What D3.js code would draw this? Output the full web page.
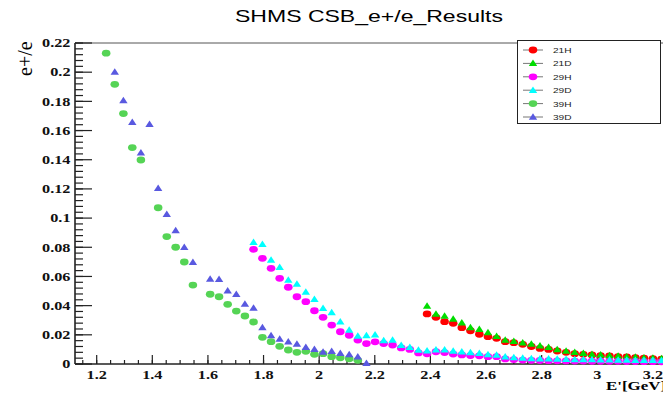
<!DOCTYPE html>
<html>
<head>
<meta charset="utf-8">
<script src="https://cdn.jsdelivr.net/npm/d3@7"></script>
<style>
  body { margin: 0; background: #fff; }
  svg { display: block; }
</style>
</head>
<body>
<svg id="chart"></svg>
<script>
// E' bin centres (GeV), shared by all series
const energy = [
  1.234, 1.265, 1.296, 1.328, 1.359, 1.390, 1.421, 1.452, 1.484, 1.515,
  1.546, 1.577, 1.608, 1.640, 1.671, 1.702, 1.733, 1.764, 1.796, 1.827,
  1.858, 1.889, 1.920, 1.952, 1.983, 2.014, 2.045, 2.076, 2.108, 2.139,
  2.170, 2.201, 2.232, 2.264, 2.295, 2.326, 2.357, 2.388, 2.420, 2.451,
  2.482, 2.513, 2.544, 2.576, 2.607, 2.638, 2.669, 2.700, 2.732, 2.763,
  2.794, 2.825, 2.856, 2.888, 2.919, 2.950, 2.981, 3.012, 3.044, 3.075,
  3.106, 3.137, 3.168, 3.200, 3.231
];

// each series starts at a bin index in energy[]
const ratio21H = [0.0343, 0.0320, 0.0290, 0.0279, 0.0249, 0.0228, 0.0204, 0.0187, 0.0176, 0.0153,
  0.0146, 0.0135, 0.0120, 0.0107, 0.0100, 0.0089, 0.0080, 0.0071, 0.0066, 0.0062,
  0.0057, 0.0055, 0.0050, 0.0048, 0.0043, 0.0040, 0.0037, 0.0034];
const ratio21D = [0.0398, 0.0343, 0.0329, 0.0308, 0.0283, 0.0249, 0.0238, 0.0215, 0.0190, 0.0164,
  0.0156, 0.0146, 0.0137, 0.0125, 0.0114, 0.0099, 0.0089, 0.0080, 0.0073, 0.0067,
  0.0063, 0.0058, 0.0055, 0.0050, 0.0047, 0.0043, 0.0041, 0.0038];
const ratio29H = [0.0786, 0.0724, 0.0656, 0.0587, 0.0526, 0.0461, 0.0427, 0.0365, 0.0320, 0.0267,
  0.0221, 0.0197, 0.0164, 0.0140, 0.0152, 0.0140, 0.0130, 0.0110, 0.0100, 0.0076,
  0.0070, 0.0084, 0.0078, 0.0068, 0.0062, 0.0058, 0.0056, 0.0050, 0.0050, 0.0035,
  0.0030, 0.0027, 0.0025, 0.0024, 0.0023, 0.0022, 0.0021, 0.0020, 0.0020, 0.0019,
  0.0019, 0.0018, 0.0018, 0.0017, 0.0017, 0.0016, 0.0016, 0.0015];
const ratio29D = [0.0834, 0.0820, 0.0713, 0.0663, 0.0576, 0.0548, 0.0493, 0.0443, 0.0382, 0.0352,
  0.0290, 0.0233, 0.0192, 0.0195, 0.0200, 0.0160, 0.0164, 0.0128, 0.0115, 0.0096,
  0.0090, 0.0098, 0.0098, 0.0089, 0.0084, 0.0078, 0.0073, 0.0064, 0.0062, 0.0050,
  0.0045, 0.0040, 0.0038, 0.0036, 0.0035, 0.0034, 0.0033, 0.0031, 0.0030, 0.0030,
  0.0029, 0.0028, 0.0027, 0.0027, 0.0026, 0.0025, 0.0025, 0.0024];
const ratio39H = [0.2130, 0.1917, 0.1716, 0.1483, 0.1398, null, 0.1071, 0.0873, 0.0800, 0.0699,
  0.0541, null, 0.0478, 0.0461, 0.0409, 0.0363, 0.0329, 0.0288, 0.0183, 0.0153,
  0.0121, 0.0096, 0.0080, 0.0087, 0.0066, 0.0071, 0.0050, 0.0043, 0.0036, 0.0025];
const ratio39D = [null, 0.2001, 0.1805, 0.1657, 0.1448, 0.1643, 0.1204, 0.1026, 0.0914, 0.0800,
  0.0697, null, 0.0583, 0.0581, 0.0502, 0.0478, 0.0411, 0.0384, 0.0249, 0.0195,
  0.0171, 0.0153, 0.0137, 0.0114, 0.0101, 0.0082, 0.0087, 0.0073, 0.0064, 0.0050,
  0.0005];

const seriesNames = ['21H', '21D', '29H', '29D', '39H', '39D'];
const seriesStart = [37, 37, 17, 17, 0, 0];
const seriesValues = [ratio21H, ratio21D, ratio29H, ratio29D, ratio39H, ratio39D];
const seriesColors = ['#ff0000', '#00dd00', '#ff00ff', '#00ffff', '#55d455', '#5959e0'];
const seriesShapes = ['circle', 'triangle', 'circle', 'triangle', 'circle', 'triangle'];

const yTicks = [0, 0.02, 0.04, 0.06, 0.08, 0.1, 0.12, 0.14, 0.16, 0.18, 0.2, 0.22];
const xTicks = [1.2, 1.4, 1.6, 1.8, 2, 2.2, 2.4, 2.6, 2.8, 3, 3.2];

const width = 663, height = 393;
const frame = { left: 75, right: 664, top: 43, bottom: 364 };
// ROOT canvas was stretched sideways, so the text is too
const stretch = 1.3;

const svg = d3.select('#chart')
  .attr('width', width)
  .attr('height', height);

const x = d3.scaleLinear().domain([1.122, 3.24]).range([frame.left, frame.right]);
const y = d3.scaleLinear().domain([0, 0.22]).range([frame.bottom, frame.top]);

function stretchedText(parent, px, py, str, sx) {
  return parent.append('text')
    .attr('transform', `translate(${px},${py}) scale(${sx},1)`)
    .text(str);
}

// title
svg.append('text')
  .attr('x', 369)
  .attr('y', 22)
  .attr('text-anchor', 'middle')
  .attr('textLength', 268)
  .attr('lengthAdjust', 'spacingAndGlyphs')
  .style('font-family', 'Liberation Sans, Arial, sans-serif')
  .style('font-size', '17px')
  .text('SHMS CSB_e+/e_Results');

// frame top
svg.append('line')
  .attr('x1', frame.left).attr('x2', frame.right)
  .attr('y1', frame.top).attr('y2', frame.top)
  .style('stroke', '#555')
  .style('stroke-width', 1);

const axisG = svg.append('g').style('stroke', '#222');

// y axis, ticks point inwards
const yMinor = d3.range(0, 0.2201, 0.004);
axisG.selectAll('.yminor')
  .data(yMinor)
  .join('line')
  .attr('x1', frame.left).attr('x2', frame.left + 8)
  .attr('y1', d => y(d)).attr('y2', d => y(d))
  .style('stroke-width', 1.2);
axisG.selectAll('.ymajor')
  .data(yTicks)
  .join('line')
  .attr('x1', frame.left).attr('x2', frame.left + 17)
  .attr('y1', d => y(d)).attr('y2', d => y(d))
  .style('stroke-width', 1.2);

// x axis
const xMinor = d3.range(1.15, 3.24, 0.05);
axisG.selectAll('.xminor')
  .data(xMinor)
  .join('line')
  .attr('x1', d => x(d)).attr('x2', d => x(d))
  .attr('y1', frame.bottom).attr('y2', frame.bottom - 4)
  .style('stroke-width', 1.2);
axisG.selectAll('.xmajor')
  .data(xTicks)
  .join('line')
  .attr('x1', d => x(d)).attr('x2', d => x(d))
  .attr('y1', frame.bottom).attr('y2', frame.bottom - 9)
  .style('stroke-width', 1.2);

axisG.append('line')
  .attr('x1', frame.left).attr('x2', frame.left)
  .attr('y1', frame.top).attr('y2', frame.bottom)
  .style('stroke-width', 1.6);
axisG.append('line')
  .attr('x1', frame.left).attr('x2', frame.right)
  .attr('y1', frame.bottom).attr('y2', frame.bottom)
  .style('stroke-width', 1.6);

// tick labels
const labelG = svg.append('g')
  .style('font-family', 'Liberation Serif, Times New Roman, serif')
  .style('font-weight', 'bold')
  .style('font-size', '12.5px')
  .style('fill', '#111');
yTicks.forEach(t => {
  stretchedText(labelG, 70.5, y(t) + 4.3, d3.format('~g')(t), stretch)
    .attr('text-anchor', 'end');
});
xTicks.forEach(t => {
  stretchedText(labelG, x(t), 378.5, d3.format('~g')(t), stretch)
    .attr('text-anchor', 'middle');
});

// axis titles
svg.append('text')
  .attr('transform', 'translate(32,76) rotate(-90)')
  .style('font-family', 'Liberation Serif, Times New Roman, serif')
  .style('font-size', '20px')
  .text('e+/e');
stretchedText(svg, 606, 390, "E'[GeV]", stretch)
  .style('font-family', 'Liberation Serif, Times New Roman, serif')
  .style('font-weight', 'bold')
  .style('font-size', '13px');

// markers
const trianglePath = 'M-4.2,2.7L4.2,2.7L0,-3.8Z';

function drawMarker(sel, shape, color) {
  if (shape === 'circle') {
    sel.append('ellipse')
      .attr('rx', 4.3)
      .attr('ry', 3.4)
      .style('fill', color);
  } else {
    sel.append('path')
      .attr('d', trianglePath)
      .style('fill', color);
  }
}

svg.append('clipPath')
  .attr('id', 'plotclip')
  .append('rect')
  .attr('x', frame.left).attr('y', frame.top)
  .attr('width', frame.right - frame.left)
  .attr('height', frame.bottom - frame.top + 2);

const plot = svg.append('g').attr('clip-path', 'url(#plotclip)');

seriesNames.forEach((name, i) => {
  const pts = seriesValues[i]
    .map((v, j) => ({ e: energy[seriesStart[i] + j], v: v }))
    .filter(d => d.v !== null);
  plot.append('g')
    .selectAll('g')
    .data(pts)
    .join('g')
    .attr('transform', d => `translate(${x(d.e)},${y(d.v)})`)
    .each(function() { drawMarker(d3.select(this), seriesShapes[i], seriesColors[i]); });
});

// legend
const legend = svg.append('g');
legend.append('rect')
  .attr('x', 517.5).attr('y', 40.5)
  .attr('width', 143).attr('height', 83)
  .style('fill', '#fff')
  .style('stroke', '#222')
  .style('stroke-width', 1);

seriesNames.forEach((name, i) => {
  const ly = 50 + i * 13.4;
  legend.append('line')
    .attr('x1', 523).attr('x2', 543)
    .attr('y1', ly).attr('y2', ly)
    .style('stroke', '#777')
    .style('stroke-width', 1);
  const m = legend.append('g').attr('transform', `translate(533,${ly})`);
  drawMarker(m, seriesShapes[i], seriesColors[i]);
  stretchedText(legend, 553, ly + 3, name, 1.35)
    .style('font-family', 'Liberation Sans, Arial, sans-serif')
    .style('font-size', '7.5px')
    .style('fill', '#222');
});
</script>
</body>
</html>
